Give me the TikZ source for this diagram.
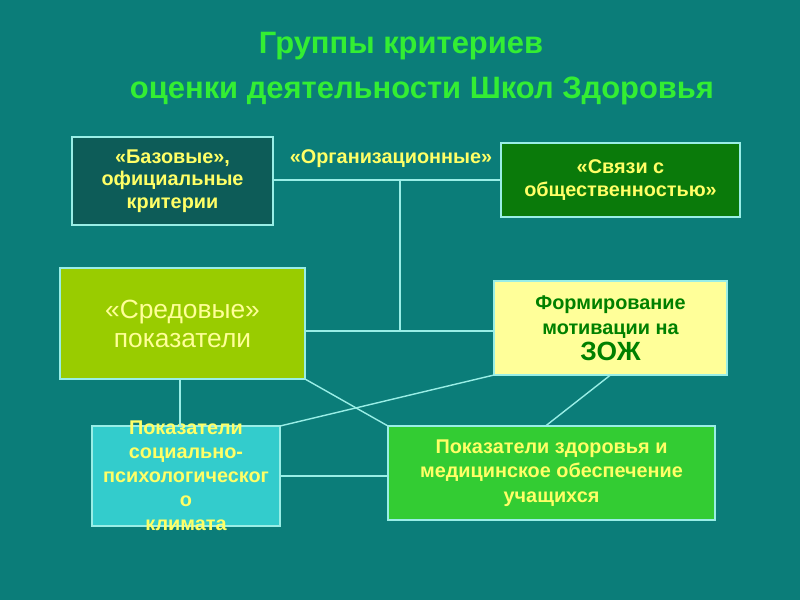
\documentclass[tikz,border=0pt]{standalone}
\usepackage{fontspec}
\setmainfont{Liberation Sans}
\usepackage{xcolor}
\usepackage{tikz}
\usetikzlibrary{calc}
\definecolor{schoolbg}{HTML}{0B7D79}
\definecolor{schooltitle}{HTML}{33EE33}
\definecolor{schoolyellow}{HTML}{FFFF66}
\definecolor{schoolpale}{HTML}{FFFF99}
\definecolor{schoolline}{HTML}{99EEE6}
\definecolor{schooldark}{HTML}{0D5C58}
\definecolor{schoolgreen}{HTML}{0A7A0A}
\definecolor{schoollime}{HTML}{99CC00}
\definecolor{schoolcyan}{HTML}{33CCCC}
\definecolor{schoolhealth}{HTML}{33CC33}
\definecolor{schoolzozh}{HTML}{008000}
\tikzset{
  critbox/.style={draw=schoolline,line width=0.8pt,inner sep=0pt,outer sep=0pt,align=center},
  crittext/.style={text=schoolyellow,font=\fontsize{11.3}{13.6}\selectfont\bfseries,align=center},
  link/.style={draw=schoolline,line width=0.8pt}
}

\begin{document}
\begin{tikzpicture}[x=0.02cm,y=-0.02cm]
    \fill[schoolbg] (0,0) rectangle (800,600);
    \useasboundingbox (0,0) rectangle (800,600);
    % title
    \node[text=schooltitle,font=\fontsize{17.6}{20}\selectfont\bfseries] (title1) at (401,46) {Группы критериев};
    \node[text=schooltitle,font=\fontsize{17.6}{20}\selectfont\bfseries] (title2) at (422,91) {оценки деятельности Школ Здоровья};
    % boxes
    \node[critbox,fill=schooldark,minimum width=4.02cm,minimum height=1.76cm,crittext,font=\fontsize{11.3}{12.8}\selectfont\bfseries] (base) at (172.5,181) {«Базовые»,\\официальные\\критерии};
    \node[crittext] (org) at (391,159) {«Организационные»};
    \node[critbox,fill=schoolgreen,minimum width=4.78cm,minimum height=1.48cm,crittext] (svyaz) at (620.5,180) {«Связи с\\общественностью»};
    \node[critbox,fill=schoollime,minimum width=4.9cm,minimum height=2.22cm,text=schoolpale,font=\fontsize{15}{16.5}\selectfont] (sred) at (182.5,323.5) {«Средовые»\\показатели};
    \node[critbox,fill=schoolpale,minimum width=4.66cm,minimum height=1.88cm,text=schoolzozh,font=\fontsize{11.3}{14.5}\selectfont\bfseries] (zozh) at (610.5,328) {Формирование\\мотивации на\\{\fontsize{15}{16}\selectfont ЗОЖ}};
    \node[critbox,fill=schoolcyan,minimum width=3.76cm,minimum height=2.0cm] (soc) at (186,476) {};
    \node[crittext] (soctext) at (soc) {Показатели\\социально-\\психологическог\\о\\климата};
    \node[critbox,fill=schoolhealth,minimum width=6.54cm,minimum height=1.88cm,crittext,font=\fontsize{11.3}{14}\selectfont\bfseries] (health) at (551.5,473) {Показатели здоровья и\\медицинское обеспечение\\учащихся};
    % connectors
    \coordinate (hubtop) at (400,180);
    \coordinate (hubbot) at (400,331);
    \draw[link] (base.east |- hubtop) -- (svyaz.west |- hubtop);
    \draw[link] (hubtop) -- (hubbot);
    \draw[link] (sred.east |- hubbot) -- (zozh.west |- hubbot);
    \draw[link] ([xshift=-0.12cm]soc.north) -- ([xshift=-0.12cm]soc.north |- sred.south);
    \draw[link] (sred.south east) -- (health.north west);
    \draw[link] (zozh.south west) -- (soc.north east);
    \draw[link] (zozh.south) -- ([xshift=-0.12cm]health.north);
    \draw[link] (soc.east) -- (soc.east -| health.west);
\end{tikzpicture}
\end{document}
